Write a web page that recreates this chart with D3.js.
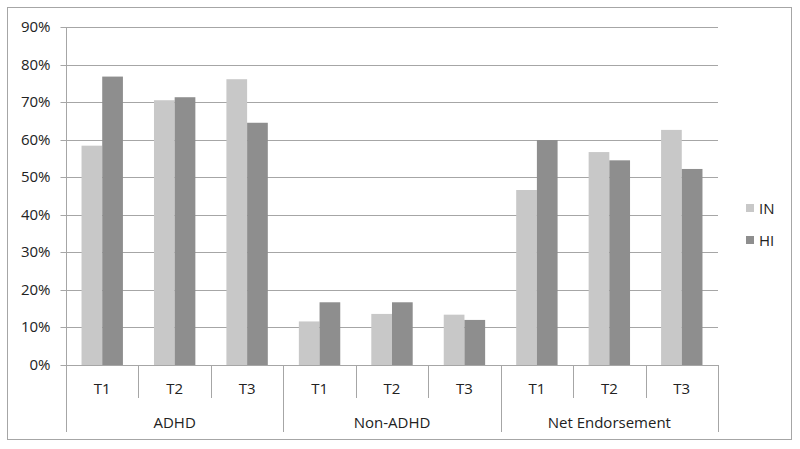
<!DOCTYPE html>
<html lang="en">
<head>
<meta charset="utf-8">
<title>IN / HI endorsement</title>
<script src="https://cdn.jsdelivr.net/npm/d3@7"></script>
<style>
  body { margin: 0; background: #fff; }
  text { font-family: "Open Sans", "Liberation Sans", sans-serif; fill: #222; }
</style>
</head>
<body>
<script>
var groups = ["ADHD", "Non-ADHD", "Net Endorsement"];
var times = ["T1", "T2", "T3"];
var series = ["IN", "HI"];
var colors = ["#c8c8c8", "#8e8e8e"];
// values in %, order: group x time
var inValues = [58.4, 70.5, 76.1, 11.6, 13.6, 13.4, 46.6, 56.7, 62.6];
var hiValues = [76.8, 71.3, 64.5, 16.7, 16.7, 12.0, 59.9, 54.5, 52.2];
var yTicks = [0, 10, 20, 30, 40, 50, 60, 70, 80, 90];

var w = 800, h = 449;
var plotLeft = 66, plotRight = 718, plotTop = 27, plotBottom = 365;
var fs = "15px";

var svg = d3.select("body").append("svg")
    .attr("width", w).attr("height", h);

// outer frame
svg.append("rect")
    .attr("x", 7.5).attr("y", 7.5)
    .attr("width", 784).attr("height", 432)
    .attr("fill", "none").attr("stroke", "#a6a6a6");

var cats = [];
groups.forEach(function (g, gi) {
    times.forEach(function (t, ti) {
        cats.push({ key: g + "-" + t, group: g, time: t, i: gi * 3 + ti });
    });
});

var x0 = d3.scaleBand().domain(cats.map(function (d) { return d.key; }))
    .range([plotLeft, plotRight]).padding(0);
var x1 = d3.scaleBand().domain(series)
    .range([0, x0.bandwidth()]).paddingInner(0).paddingOuter(0.75);
var y = d3.scaleLinear().domain([0, 90]).range([plotBottom, plotTop]);

// gridlines
svg.selectAll("line.grid")
    .data(yTicks.slice(1))
    .enter().append("line")
    .attr("x1", plotLeft).attr("x2", plotRight)
    .attr("y1", function (d) { return Math.round(y(d)) + 0.5; })
    .attr("y2", function (d) { return Math.round(y(d)) + 0.5; })
    .attr("stroke", "#a6a6a6");

// y axis
var yAxis = d3.axisLeft(y).tickValues(yTicks)
    .tickFormat(function (d) { return d + "%"; })
    .tickSize(6).tickPadding(10);
var ya = svg.append("g")
    .attr("transform", "translate(" + (plotLeft + 0.5) + ",0)")
    .call(yAxis);
ya.select(".domain").remove();
ya.selectAll(".tick").attr("transform", function (d) {
    return "translate(0," + (Math.round(y(d)) + 0.5) + ")";
});
ya.selectAll(".tick line").attr("stroke", "#a6a6a6");
ya.selectAll(".tick text").attr("font-size", fs).attr("fill", "#222")
    .attr("font-family", "\"Open Sans\", \"Liberation Sans\", sans-serif");
svg.append("line")
    .attr("x1", plotLeft + 0.5).attr("x2", plotLeft + 0.5)
    .attr("y1", plotTop).attr("y2", plotBottom)
    .attr("stroke", "#a6a6a6");

// bars
var data = [inValues, hiValues];
series.forEach(function (s, si) {
    svg.selectAll("rect.bar-" + s)
        .data(cats)
        .enter().append("rect")
        .attr("class", "bar-" + s)
        .attr("x", function (d) { return x0(d.key) + x1(s); })
        .attr("y", function (d) { return y(data[si][d.i]); })
        .attr("width", x1.bandwidth())
        .attr("height", function (d) { return plotBottom - y(data[si][d.i]); })
        .attr("fill", colors[si]);
});

// x axis baseline
svg.append("line")
    .attr("x1", plotLeft).attr("x2", plotRight)
    .attr("y1", plotBottom + 0.5).attr("y2", plotBottom + 0.5)
    .attr("stroke", "#a6a6a6");

// category dividers (short)
svg.selectAll("line.cat")
    .data(cats.filter(function (d) { return d.i % 3 !== 0; }))
    .enter().append("line")
    .attr("x1", function (d) { return Math.round(x0(d.key)) + 0.5; })
    .attr("x2", function (d) { return Math.round(x0(d.key)) + 0.5; })
    .attr("y1", plotBottom).attr("y2", 398)
    .attr("stroke", "#a6a6a6");

// group dividers (long)
var gEdges = [0, 3, 6].map(function (i) { return x0(cats[i].key); }).concat([plotRight]);
svg.selectAll("line.grp")
    .data(gEdges)
    .enter().append("line")
    .attr("x1", function (d) { return Math.round(d) + 0.5; })
    .attr("x2", function (d) { return Math.round(d) + 0.5; })
    .attr("y1", plotBottom).attr("y2", 432)
    .attr("stroke", "#a6a6a6");

// time labels
svg.selectAll("text.time")
    .data(cats)
    .enter().append("text")
    .attr("x", function (d) { return x0(d.key) + x0.bandwidth() / 2; })
    .attr("y", 394)
    .attr("text-anchor", "middle")
    .attr("font-size", fs)
    .text(function (d) { return d.time; });

// group labels
svg.selectAll("text.group")
    .data(groups)
    .enter().append("text")
    .attr("x", function (d, i) { return (gEdges[i] + gEdges[i + 1]) / 2; })
    .attr("y", 428)
    .attr("text-anchor", "middle")
    .attr("font-size", fs)
    .text(function (d) { return d; });

// legend
var lg = svg.selectAll("g.legend")
    .data(series)
    .enter().append("g")
    .attr("transform", function (d, i) { return "translate(746," + (204 + i * 32) + ")"; });
lg.append("rect")
    .attr("width", 8).attr("height", 8)
    .attr("fill", function (d, i) { return colors[i]; });
lg.append("text")
    .attr("x", 13).attr("y", 10)
    .attr("font-size", fs)
    .text(function (d) { return d; });
</script>
</body>
</html>
